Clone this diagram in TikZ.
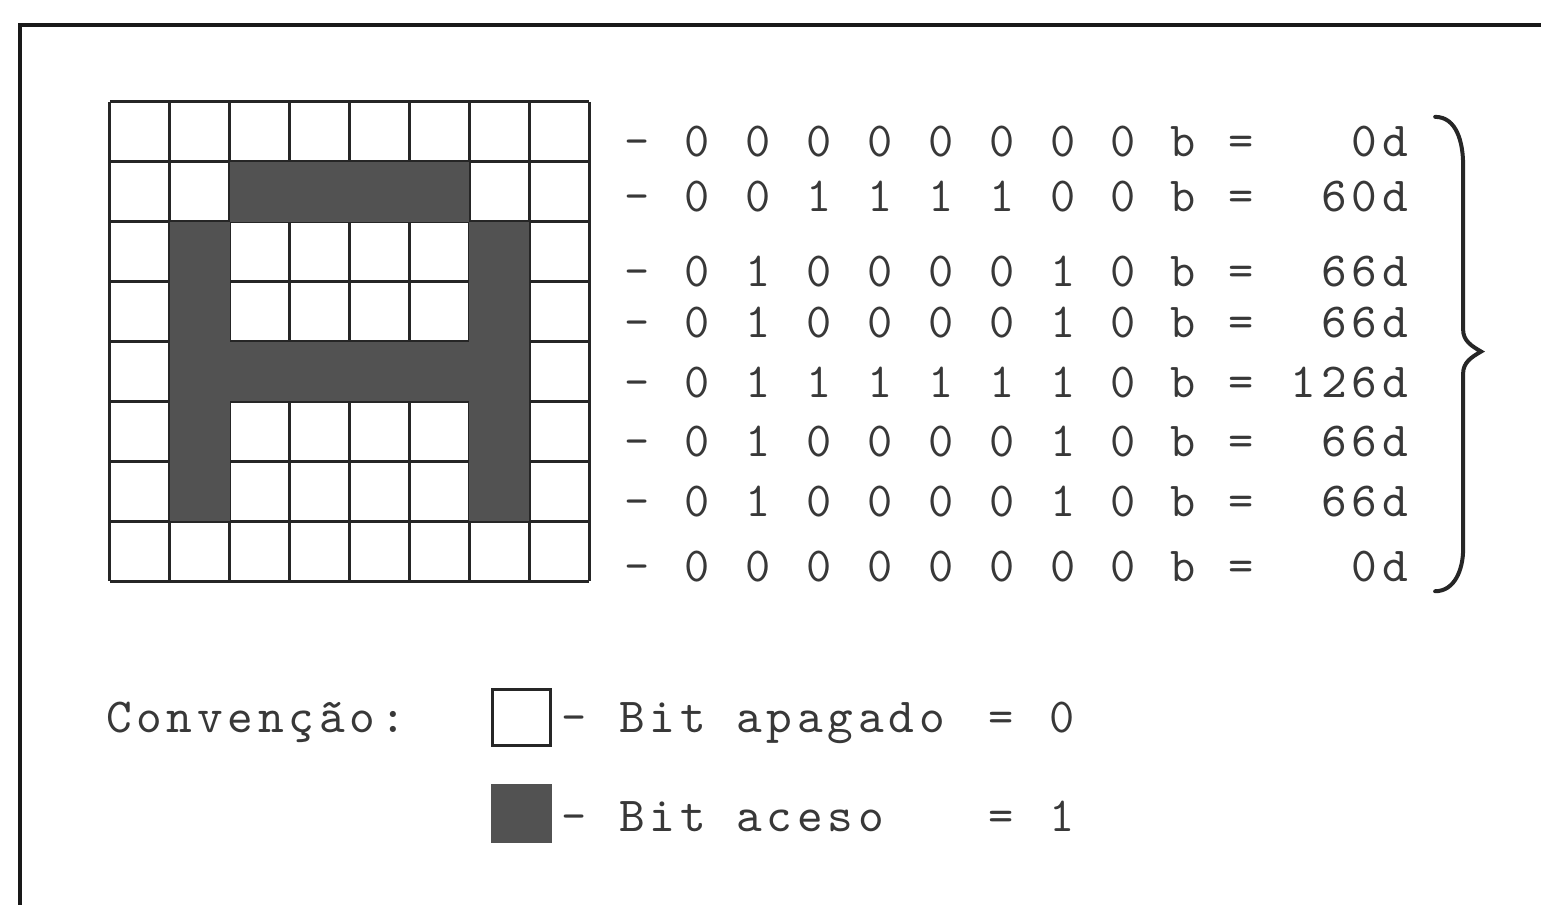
\documentclass[tikz,border=0pt]{standalone}
\usepackage{fontspec}
\newfontfamily\spacedmono{lmmono10-regular.otf}[LetterSpace=9.75,WordSpace={1,0,0}]

\begin{document}
\begin{tikzpicture}[x=1pt,y=-1pt,
    mono/.style={font=\ttfamily\fontsize{49}{60}\selectfont,text=black!78,inner sep=0pt,anchor=base},
    spaced/.style={mono,font=\spacedmono\fontsize{49}{60}\selectfont},
    gridline/.style={line width=3pt,black!85},
    oncell/.style={fill=black!68},
    keycell/.style={draw=black!85,line width=3pt,minimum width=58pt,minimum height=56pt,inner sep=0pt}]
                      \fill[white] (0,0) rectangle (1543,906);
                      \draw[line width=4pt,black!90] (20,906) |- (1543,25);
                      % grade de 8x8 pontos
                      \foreach \i in {0,...,8} {
                        \draw[gridline] (110+60*\i,102) -- (110+60*\i,582);
                        \draw[gridline] (110,102+60*\i) -- (590,102+60*\i);
                      }
                      \foreach \y/\bits/\val [count=\r from 0] in {
                          157/{0,0,0,0,0,0,0,0}/0d,
                          212/{0,0,1,1,1,1,0,0}/60d,
                          287/{0,1,0,0,0,0,1,0}/66d,
                          338/{0,1,0,0,0,0,1,0}/66d,
                          398/{0,1,1,1,1,1,1,0}/126d,
                          457/{0,1,0,0,0,0,1,0}/66d,
                          517/{0,1,0,0,0,0,1,0}/66d,
                          582/{0,0,0,0,0,0,0,0}/0d} {
                        \node[mono] (Dash\r) at (638,\y) {-};
                        \foreach \b [count=\c from 0] in \bits {
                          \ifnum\b=1 \fill[oncell] (110+60*\c,102+60*\r) rectangle ++(60,60); \fi
                          \node[mono] (Bit\r-\c) at (698+61*\c,\y) {\b};
                        }
                        \node[mono] (Suf\r) at (1185,\y) {b};
                        \node[mono] (Eq\r) at (1243,\y) {=};
                        \node[spaced,anchor=base east] (Val\r) at (1410,\y) {\val};
                      }
                      \draw[line width=4pt,black!85,line cap=round]
                        (1437,117) to[out=0,in=90] (1465,165) -- (1465,330)
                        to[out=-90,in=150] (1483,352) to[out=210,in=90] (1465,374)
                        -- (1465,550) to[out=-90,in=0] (1437,592);
                      % legenda
                      \node[spaced,anchor=base west] (Conv) at (106,733) {Convenção:};
                      \node[keycell,fill=white] (OffKey) at (522,718) {};
                      \node[keycell,fill=black!68,draw=black!68] (OnKey) at (522,815) {};
                      \node[mono] (OffDash) at (575,733) {-};
                      \node[spaced,anchor=base west] (OffText) at (620,733) {Bit apagado};
                      \node[mono] (OffEq) at (1002,733) {=};
                      \node[mono] (OffVal) at (1063,733) {0};
                      \node[mono] (OnDash) at (575,833) {-};
                      \node[spaced,anchor=base west] (OnText) at (620,833) {Bit aceso};
                      \node[mono] (OnEq) at (1002,833) {=};
                      \node[mono] (OnVal) at (1063,833) {1};
                    \end{tikzpicture}
\end{document}
